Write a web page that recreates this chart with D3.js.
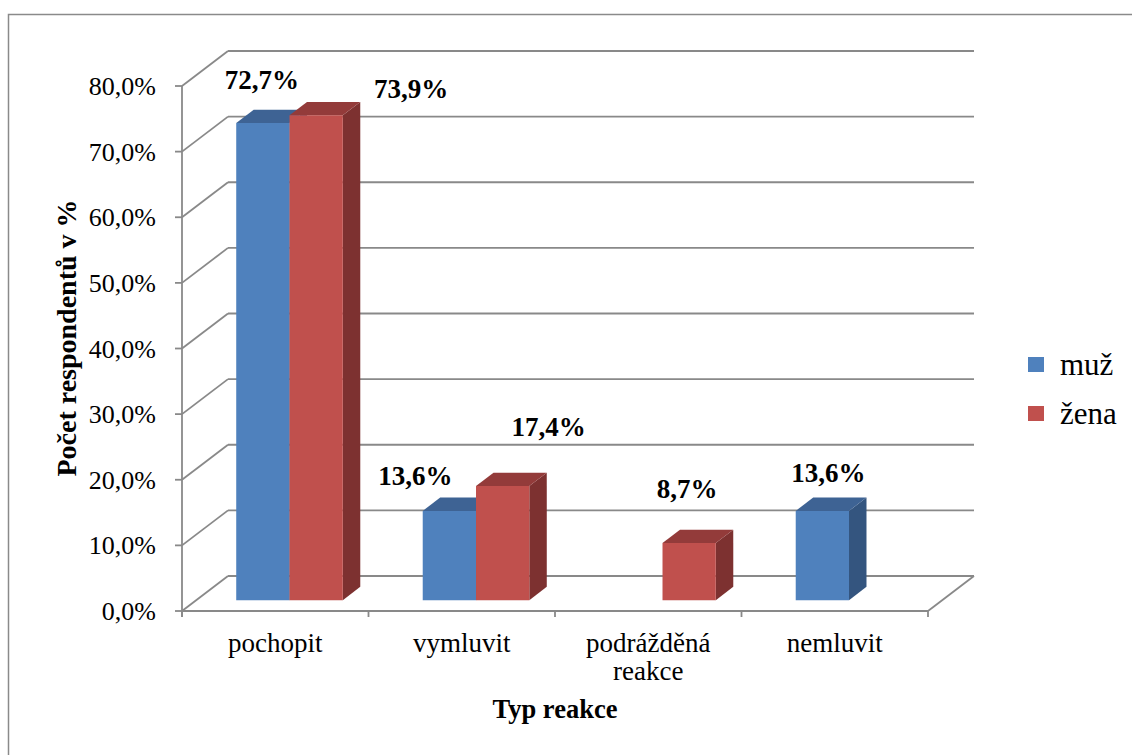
<!DOCTYPE html>
<html>
<head>
<meta charset="utf-8">
<script src="https://cdn.jsdelivr.net/npm/d3@7"></script>
<style>
  html, body { margin: 0; padding: 0; background: #fff; }
  svg { display: block; }
</style>
</head>
<body>
<svg id="chart" width="1132" height="755"></svg>
<script>
// ---- data ----
const categories = ["pochopit", "vymluvit", "podrážděná reakce", "nemluvit"];
const categoryLines = [["pochopit"], ["vymluvit"], ["podrážděná", "reakce"], ["nemluvit"]];
const seriesNames = ["muž", "žena"];
const muz = [72.7, 13.6, null, 13.6];
const zena = [73.9, 17.4, 8.7, null];
const yTicks = [0, 10, 20, 30, 40, 50, 60, 70, 80];
const xTitle = "Typ reakce";
const yTitle = "Počet respondentů v %";

// label nudges relative to the top of each bar's front face [dx, dy]
const labelShift = {
  "muž":  [[-1, -34], [-34, -26], [0, 0], [6, -29]],
  "žena": [[95, -17], [46, -50], [-2, -45], [0, 0]]
};

const colors = {
  "muž":  { front: "#4F81BD", top: "#3E6394", side: "#34557F" },
  "žena": { front: "#C0504D", top: "#933B3A", side: "#7D3130" }
};

const FONT = "'Liberation Serif', 'Times New Roman', serif";
const svg = d3.select("#chart");
const fmt = v => d3.format(".1f")(v).replace(".", ",") + "%";

// chart frame
svg.append("rect")
  .attr("x", 8.5).attr("y", 14.5)
  .attr("width", 1200).attr("height", 800)
  .attr("fill", "none").attr("stroke", "#8a8a8a").attr("stroke-width", 1.5);

// ---- scales (front plane) + depth projection ----
const x = d3.scaleBand().domain(categories).range([182, 928]);
const xs = d3.scaleBand().domain(seriesNames).range([0, x.bandwidth()])
  .paddingInner(0).paddingOuter(0.75);
const y = d3.scaleLinear().domain([0, 80]).range([611, 86]);
const DX = 46, DY = -35;
const P = (px, py, d) => [px + d * DX, py + d * DY];
const gridColor = "#898989";

const grid = svg.append("g").attr("fill", "none")
  .attr("stroke", gridColor).attr("stroke-width", 1.8);

// back wall gridlines + side wall diagonals
yTicks.forEach(t => {
  const a = P(x.range()[0], y(t), 1), b = P(x.range()[1], y(t), 1);
  grid.append("line").attr("x1", a[0]).attr("y1", a[1]).attr("x2", b[0]).attr("y2", b[1]);
  const c = P(x.range()[0], y(t), 0);
  grid.append("line").attr("x1", c[0]).attr("y1", c[1]).attr("x2", a[0]).attr("y2", a[1]);
});
// floor: right edge
{
  const a = P(x.range()[1], y(0), 0), b = P(x.range()[1], y(0), 1);
  grid.append("line").attr("x1", a[0]).attr("y1", a[1]).attr("x2", b[0]).attr("y2", b[1]);
}

// value axis (front-left edge) with ticks
grid.append("line").attr("x1", 182).attr("x2", 182).attr("y1", y(0) + 6).attr("y2", y(80));
yTicks.forEach(t => {
  grid.append("line").attr("x1", 175).attr("x2", 182).attr("y1", y(t)).attr("y2", y(t));
});
svg.append("g").selectAll("text").data(yTicks).join("text")
  .attr("x", 156).attr("y", d => y(d))
  .attr("dy", "0.35em")
  .attr("text-anchor", "end")
  .attr("font-family", FONT)
  .attr("font-size", 26)
  .text(d => fmt(d));

// category axis (front floor edge)
grid.append("line").attr("x1", x.range()[0]).attr("x2", x.range()[1]).attr("y1", y(0)).attr("y2", y(0));
const bounds = categories.map(c => x(c)).concat([x.range()[1]]);
bounds.forEach(b => {
  grid.append("line").attr("x1", b).attr("x2", b).attr("y1", y(0)).attr("y2", y(0) + 6);
});
categories.forEach((c, i) => {
  const t = svg.append("text")
    .attr("x", x(c) + x.bandwidth() / 2)
    .attr("y", 652)
    .attr("text-anchor", "middle")
    .attr("font-family", FONT)
    .attr("font-size", 27);
  categoryLines[i].forEach((ln, j) => {
    t.append("tspan").attr("x", x(c) + x.bandwidth() / 2).attr("dy", j === 0 ? 0 : 28).text(ln);
  });
});

// ---- 3D bars ----
const D0 = 0.31, D1 = 0.69;
const seriesData = { "muž": muz, "žena": zena };
const barG = svg.append("g");
const labels = [];
categories.forEach((c, i) => {
  seriesNames.forEach(s => {
    const v = seriesData[s][i];
    if (v == null) return;
    const x0 = x(c) + xs(s), x1 = x0 + xs.bandwidth();
    const f0 = P(x0, y(0), D0), f1 = P(x1, y(0), D0);
    const ft0 = P(x0, y(v), D0), ft1 = P(x1, y(v), D0);
    const bt0 = P(x0, y(v), D1), bt1 = P(x1, y(v), D1);
    const b1 = P(x1, y(0), D1);
    const poly = pts => pts.map(p => p.join(",")).join(" ");
    // side face
    barG.append("polygon").attr("points", poly([f1, ft1, bt1, b1])).attr("fill", colors[s].side);
    // top face
    barG.append("polygon").attr("points", poly([ft0, ft1, bt1, bt0])).attr("fill", colors[s].top);
    // front face
    barG.append("polygon").attr("points", poly([f0, f1, ft1, ft0])).attr("fill", colors[s].front);
    const sh = labelShift[s][i];
    labels.push({ x: (ft0[0] + ft1[0]) / 2 + sh[0], y: ft0[1] + sh[1], text: fmt(v) });
  });
});

// data labels
svg.append("g").selectAll("text").data(labels).join("text")
  .attr("x", d => d.x).attr("y", d => d.y)
  .attr("text-anchor", "middle")
  .attr("font-family", FONT)
  .attr("font-size", 27).attr("font-weight", "bold")
  .text(d => d.text);

// axis titles
svg.append("text")
  .attr("x", 555).attr("y", 718)
  .attr("text-anchor", "middle")
  .attr("font-family", FONT)
  .attr("font-size", 26.5).attr("font-weight", "bold")
  .text(xTitle);
svg.append("text")
  .attr("transform", "translate(76,338) rotate(-90)")
  .attr("text-anchor", "middle")
  .attr("font-family", FONT)
  .attr("font-size", 28).attr("font-weight", "bold")
  .text(yTitle);

// legend
const leg = svg.append("g");
seriesNames.forEach((s, i) => {
  const yy = 357 + i * 49;
  leg.append("rect").attr("x", 1028).attr("y", yy).attr("width", 16).attr("height", 15)
    .attr("fill", colors[s].front);
  leg.append("text").attr("x", 1060).attr("y", yy + 18)
    .attr("font-family", FONT)
    .attr("font-size", 31).text(s);
});
</script>
</body>
</html>
